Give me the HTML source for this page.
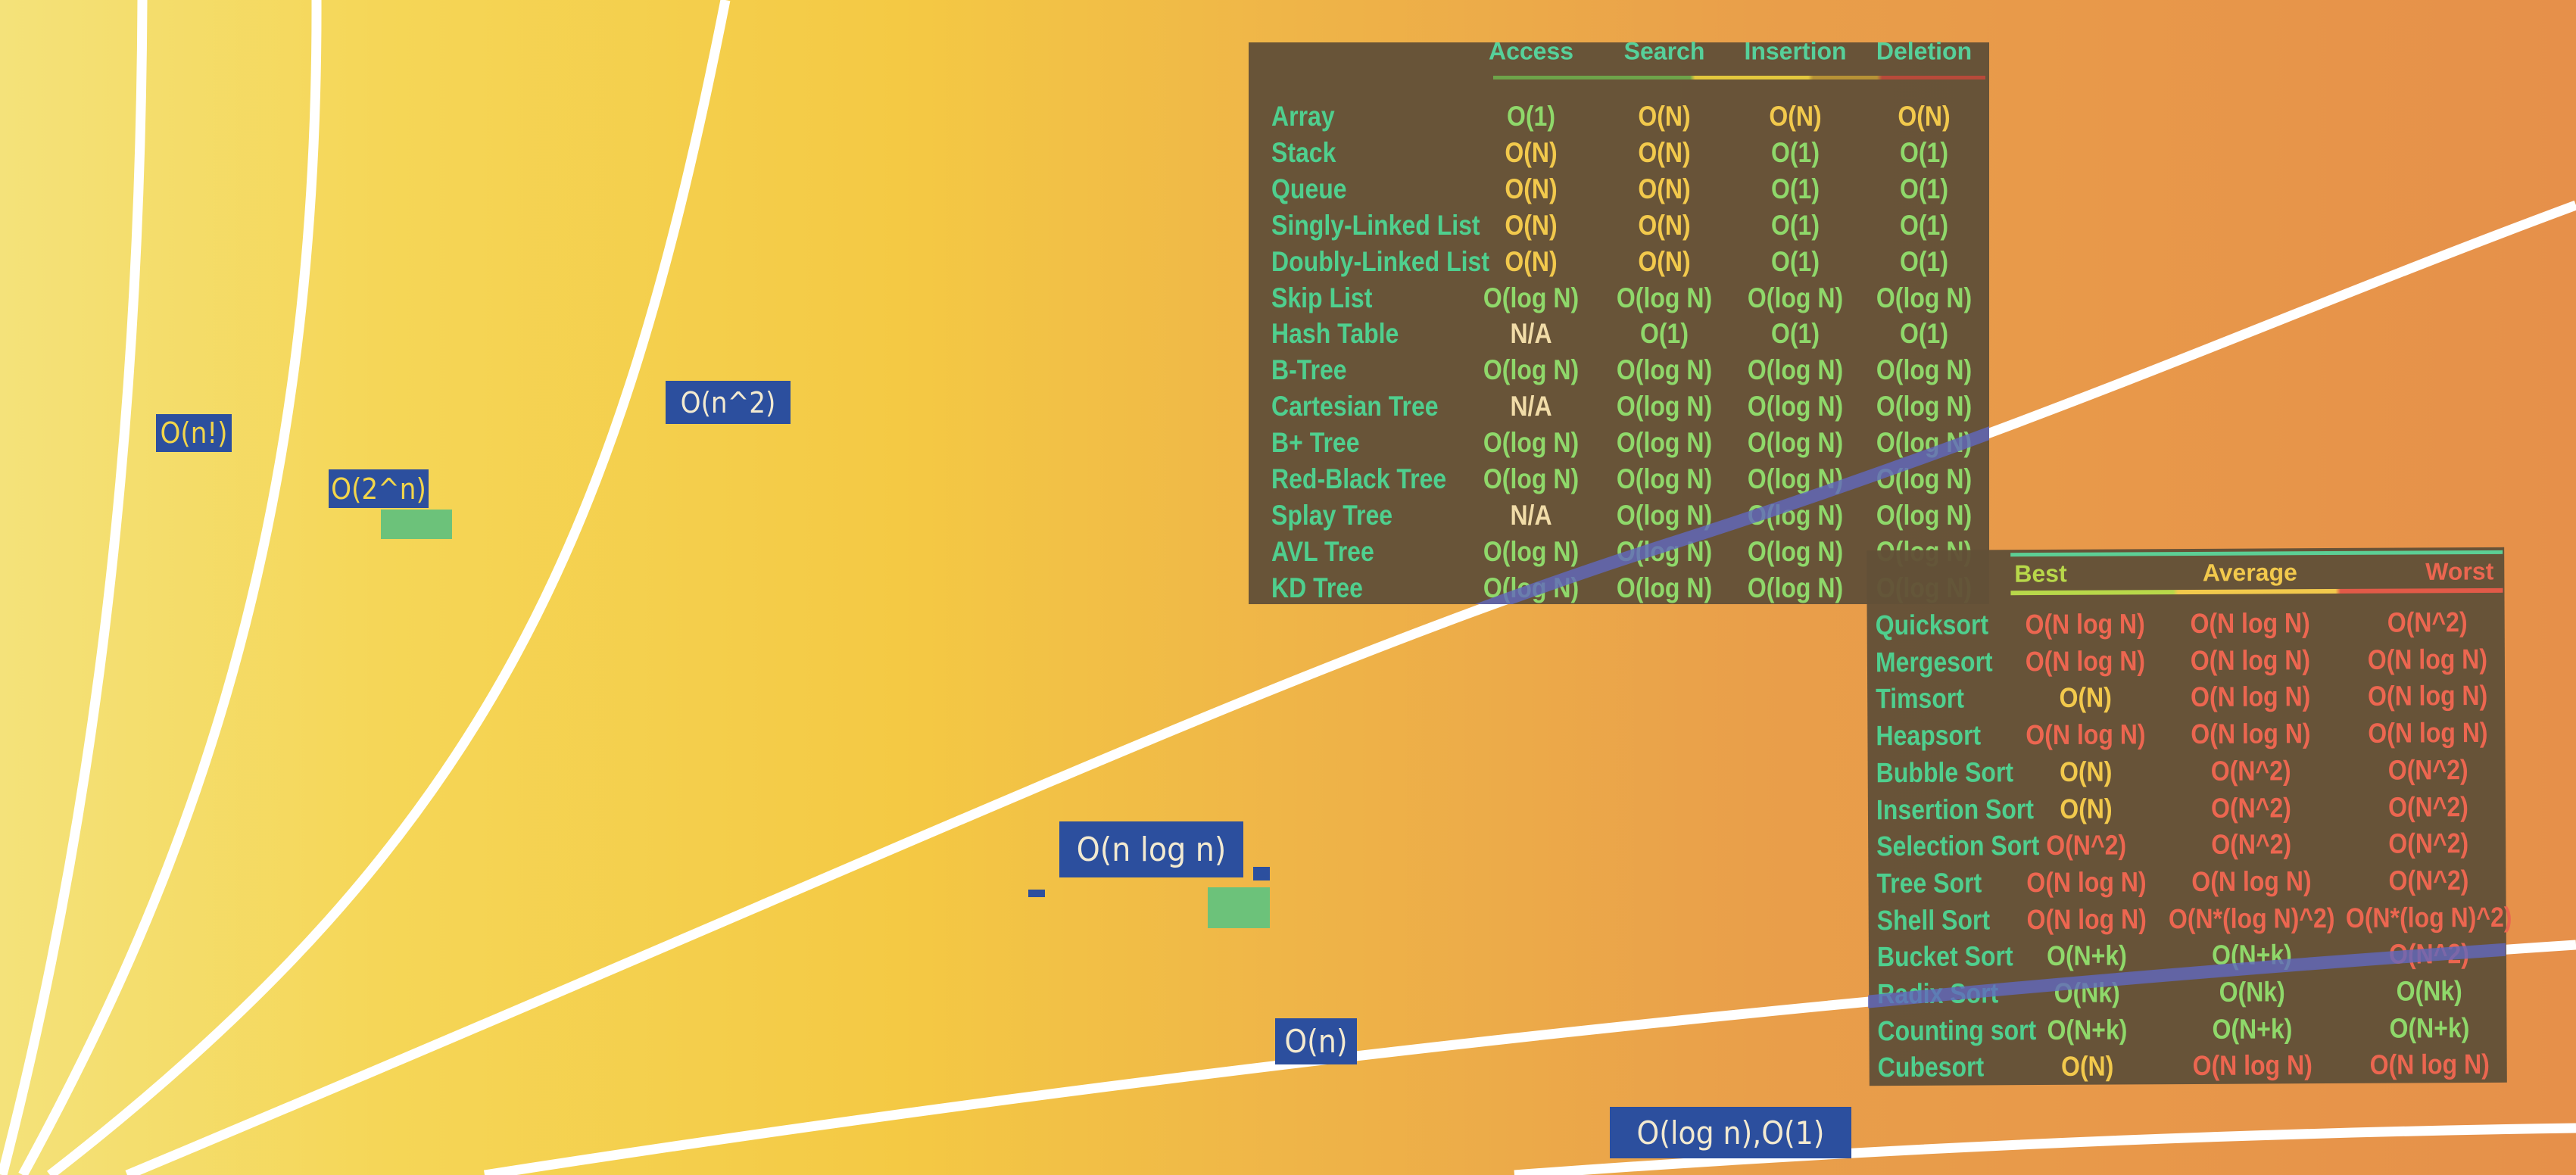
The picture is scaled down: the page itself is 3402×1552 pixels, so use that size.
<!DOCTYPE html>
<html><head><meta charset="utf-8">
<style>
html,body{margin:0;padding:0}
body{width:3402px;height:1552px;overflow:hidden;position:relative;
background:linear-gradient(90deg,#f4e27a 0%,#f5d657 15%,#f4c944 35%,#efb548 50%,#e99f4a 68%,#e6904a 100%);
font-family:"Liberation Sans Narrow","Liberation Sans",sans-serif}
svg.lines{position:absolute;left:0;top:0}
.lbl{position:absolute;background:#2c4f9e;color:#f2d54a;font-family:"DejaVu Sans Condensed","Liberation Sans Narrow",sans-serif;font-size:38px;display:flex;align-items:center;justify-content:center;box-sizing:border-box}
.tbl{position:absolute;background:rgba(98,80,55,0.96)}
.cell{position:absolute;font-weight:bold;font-size:32px;white-space:nowrap;transform:translate(-50%,-50%) scaleY(1.15)}
.rlab{position:absolute;font-weight:bold;font-size:32px;color:#4fcf8e;white-space:nowrap;transform:translateY(-50%) scaleY(1.15)}
.hd{position:absolute;font-weight:bold;font-size:32px;white-space:nowrap;transform:translate(-50%,-50%)}
</style></head>
<body>
<svg class="lines" width="3402" height="1552">
<defs>
<clipPath id="tclip"><rect x="1649" y="56" width="978" height="742"/><rect x="2467" y="725" width="842" height="707"/></clipPath>
</defs>
<g fill="none" stroke="#ffffff" stroke-width="13">
<path d="M3 1552 C120 1100 185 600 188 0"/>
<path d="M30 1552 C250 1150 420 700 418 0"/>
<path d="M66 1552 C650 1100 820 700 958 0"/>
<path d="M168 1552 C1200 1120 1700 880 2200 720 S3000 420 3402 271"/>
<path d="M640 1552 Q2000 1340 3402 1248"/>
<path d="M2000 1552 Q2700 1500 3402 1490"/>
</g>
</svg>
<div id="t1" class="tbl" style="left:1649px;top:56px;width:978px;height:742px"></div>
<div id="t2" class="tbl" style="left:2467px;top:725px;width:842px;height:707px;transform:rotate(-0.3deg)"></div>
<svg class="lines" width="3402" height="1552" style="pointer-events:none">
<g fill="none" stroke="rgba(96,104,190,0.8)" stroke-width="17" clip-path="url(#tclip)">
<path d="M168 1552 C1200 1120 1700 880 2200 720 S3000 420 3402 271"/>
<path d="M640 1552 Q2000 1340 3402 1248"/>
</g>
</svg>
<div class="lbl" style="left:206px;top:547px;width:100px;height:50px">O(n!)</div>
<div class="lbl" style="left:434px;top:620px;width:132px;height:51px">O(2^n)</div>
<div style="position:absolute;left:503px;top:673px;width:94px;height:39px;background:#6cc27a"></div>
<div class="lbl" style="left:879px;top:503px;width:165px;height:57px;color:#f3ead0">O(n^2)</div>
<div class="lbl" style="left:1399px;top:1085px;width:243px;height:74px;color:#f3ead0;font-size:44px">O(n log n)</div>
<div style="position:absolute;left:1595px;top:1172px;width:82px;height:54px;background:#6cc27a"></div>
<div style="position:absolute;left:1655px;top:1145px;width:22px;height:18px;background:#2c4f9e"></div>
<div style="position:absolute;left:1358px;top:1175px;width:22px;height:10px;background:#2c4f9e"></div>
<div class="lbl" style="left:1684px;top:1345px;width:108px;height:61px;color:#f3ead0;font-size:42px">O(n)</div>
<div class="lbl" style="left:2126px;top:1462px;width:319px;height:68px;color:#f3ead0;font-size:42px">O(log n),O(1)</div>
<script>
const dsHeaders=["Access","Search","Insertion","Deletion"];
const dsRows=["Array","Stack","Queue","Singly-Linked List","Doubly-Linked List","Skip List","Hash Table","B-Tree","Cartesian Tree","B+ Tree","Red-Black Tree","Splay Tree","AVL Tree","KD Tree"];
const dsVals=[
["O(1)","O(N)","O(N)","O(N)"],["O(N)","O(N)","O(1)","O(1)"],["O(N)","O(N)","O(1)","O(1)"],["O(N)","O(N)","O(1)","O(1)"],["O(N)","O(N)","O(1)","O(1)"],
["O(log N)","O(log N)","O(log N)","O(log N)"],["N/A","O(1)","O(1)","O(1)"],["O(log N)","O(log N)","O(log N)","O(log N)"],["N/A","O(log N)","O(log N)","O(log N)"],
["O(log N)","O(log N)","O(log N)","O(log N)"],["O(log N)","O(log N)","O(log N)","O(log N)"],["N/A","O(log N)","O(log N)","O(log N)"],["O(log N)","O(log N)","O(log N)","O(log N)"],["O(log N)","O(log N)","O(log N)","O(log N)"]];
const sortHeaders=["Best","Average","Worst"];
const sortRows=["Quicksort","Mergesort","Timsort","Heapsort","Bubble Sort","Insertion Sort","Selection Sort","Tree Sort","Shell Sort","Bucket Sort","Radix Sort","Counting sort","Cubesort"];
const sortVals=[
["O(N log N)","O(N log N)","O(N^2)"],["O(N log N)","O(N log N)","O(N log N)"],["O(N)","O(N log N)","O(N log N)"],["O(N log N)","O(N log N)","O(N log N)"],
["O(N)","O(N^2)","O(N^2)"],["O(N)","O(N^2)","O(N^2)"],["O(N^2)","O(N^2)","O(N^2)"],["O(N log N)","O(N log N)","O(N^2)"],
["O(N log N)","O(N*(log N)^2)","O(N*(log N)^2)"],["O(N+k)","O(N+k)","O(N^2)"],["O(Nk)","O(Nk)","O(Nk)"],["O(N+k)","O(N+k)","O(N+k)"],["O(N)","O(N log N)","O(N log N)"]];
function color(v){
  if(v==="N/A")return "#f1dca8";
  if(v.indexOf("^2")>=0||v.indexOf("N log N")>=0)return "#ec6650";
  if(v==="O(N)")return "#f2c94c";
  return "#8fd86a";
}
const t1=document.getElementById('t1');
const c1=[373,549,722,892];
dsHeaders.forEach((h,i)=>{
  const d=document.createElement('div');d.className='hd';d.textContent=h;
  d.style.left=c1[i]+'px';d.style.top='12px';d.style.color='#56d09a';
  
  
  t1.appendChild(d);
});
const bar1=document.createElement('div');


bar1.style.cssText='position:absolute;left:323px;top:44px;width:650px;height:5px;background:linear-gradient(90deg,#6ea44a 0%,#6ea44a 40%,#e3c83e 41%,#e3c83e 64%,#b79236 65%,#b79236 78%,#b84a3a 79%,#b84a3a 100%)';
t1.appendChild(bar1);
dsRows.forEach((r,j)=>{
  const y=98+j*47.9;
  const l=document.createElement('div');l.className='rlab';l.textContent=r;
  l.style.left='30px';l.style.top=y+'px';
  
  
  t1.appendChild(l);
  dsVals[j].forEach((v,i)=>{
    const c=document.createElement('div');c.className='cell';c.textContent=v;
    c.style.left=c1[i]+'px';c.style.top=y+'px';c.style.color=color(v);
    
    
    t1.appendChild(c);
  });
});
const t2=document.getElementById('t2');
const c2=[288,506,740];
const topbar=document.createElement('div');


topbar.style.cssText='position:absolute;left:190px;top:4px;width:650px;height:5px;background:#5ccf95';
t2.appendChild(topbar);
sortHeaders.forEach((h,i)=>{
  const d=document.createElement('div');d.className='hd';d.textContent=h;
  d.style.top='32px';
  if(i===0){d.style.left='195px';d.style.transform='translateY(-50%)';d.style.color='#b8d84a';}
  else if(i===1){d.style.left='506px';d.style.color='#f2c94c';}
  else {d.style.right='14px';d.style.transform='translateY(-50%)';d.style.color='#ec6650';}
  
  
  t2.appendChild(d);
});
const bar2=document.createElement('div');


bar2.style.cssText='position:absolute;left:190px;top:54px;width:650px;height:6px;background:linear-gradient(90deg,#b8d84a 0%,#b8d84a 33%,#f2c94c 34%,#f2c94c 66%,#e25a48 67%,#e25a48 100%)';
t2.appendChild(bar2);
sortRows.forEach((r,j)=>{
  const y=99+j*48.7;
  const l=document.createElement('div');l.className='rlab';l.textContent=r;
  l.style.left='11px';l.style.top=y+'px';
  
  
  t2.appendChild(l);
  sortVals[j].forEach((v,i)=>{
    const c=document.createElement('div');c.className='cell';c.textContent=v;
    c.style.left=c2[i]+'px';c.style.top=y+'px';c.style.color=color(v);
    
    
    t2.appendChild(c);
  });
});
</script>
</body></html>
